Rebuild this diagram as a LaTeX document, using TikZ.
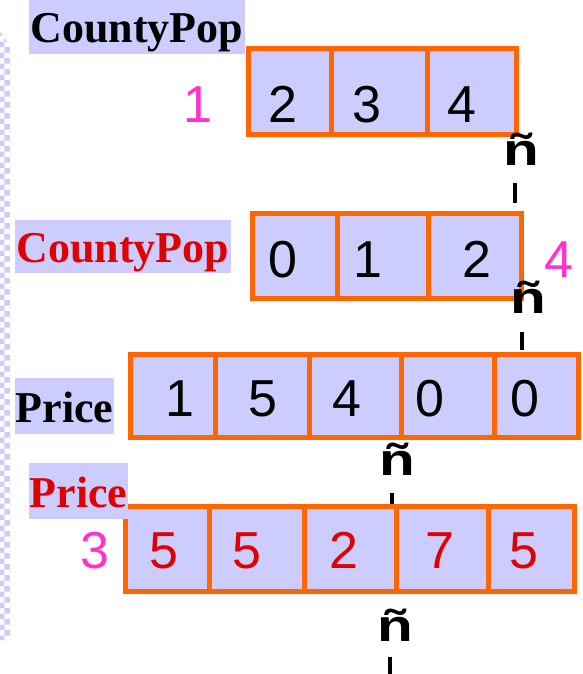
\documentclass[tikz,border=0pt]{standalone}
\usepackage{fontspec}
\setmainfont{Liberation Sans}
\newfontfamily\lblfont{Liberation Serif}
\usetikzlibrary{patterns}
\definecolor{orng}{HTML}{FF6600}
\definecolor{lav}{HTML}{CCCCFF}
\definecolor{redt}{HTML}{E00000}
\definecolor{mag}{HTML}{FF33CC}
\tikzset{
  cell/.style={draw=orng, fill=lav, line width=5pt, inner sep=0pt, rectangle},
  digit/.style={font=\fontsize{52}{52}\selectfont, anchor=base, inner sep=0pt},
  idx/.style={digit, text=mag},
  lbl/.style={fill=lav, inner xsep=2pt, inner ysep=0pt, anchor=base, font=\lblfont\bfseries\fontsize{44}{44}\selectfont},
  ntil/.style={font=\bfseries\fontsize{45}{45}\selectfont, anchor=base, inner sep=0pt, xscale=1.3},
  tick/.style={line width=3.5pt, black}
}
\begin{document}
\begin{tikzpicture}[x=1pt,y=-1pt]
\useasboundingbox (0,0) rectangle (583,674);
% left strip
\fill[pattern=checkerboard, pattern color=lav] (0,32) -- (10,45) -- (10,640) -- (0,640) -- cycle;

% Row 1
\node[cell, minimum width=82.5pt, minimum height=86pt] (r1a) at (289.75,91.5) {};
\node[cell, minimum width=96pt, minimum height=86pt] (r1b) at (379,91.5) {};
\node[cell, minimum width=89.5pt, minimum height=86pt] (r1c) at (471.75,91.5) {};
\node[digit] (d1a) at (283,122) {2};
\node[digit] (d1b) at (367,122) {3};
\node[digit] (d1c) at (462,122) {4};
\node[idx] (i1) at (198,122) {1};
\node[lbl, text height=43pt, text depth=11pt] (L1) at (137,43) {CountyPop};
\node[ntil] (n1) at (521.5,165) {ñ};
\coordinate (t1a) at (515,183); \coordinate (t1b) at (515,203);
\draw[tick] (t1a) -- (t1b);

% Row 2
\node[cell, minimum width=84.5pt, minimum height=85pt] (r2a) at (294.75,256) {};
\node[cell, minimum width=91pt, minimum height=85pt] (r2b) at (382.5,256) {};
\node[cell, minimum width=93.5pt, minimum height=85pt] (r2c) at (474.75,256) {};
\node[digit] (d2a) at (283,277) {0};
\node[digit] (d2b) at (368,277) {1};
\node[digit] (d2c) at (477,277) {2};
\node[idx] (i2) at (559,277) {4};
\node[lbl, text=redt, text height=42pt, text depth=11pt] (L2) at (123,262) {CountyPop};
\node[ntil] (n2) at (528.5,313) {ñ};
\coordinate (t2a) at (522,332); \coordinate (t2b) at (522,350);
\draw[tick] (t2a) -- (t2b);

% Row 3
\node[cell, minimum width=84.5pt, minimum height=83pt] (r3a) at (172.75,396) {};
\node[cell, minimum width=94pt, minimum height=83pt] (r3b) at (262,396) {};
\node[cell, minimum width=92pt, minimum height=83pt] (r3c) at (355,396) {};
\node[cell, minimum width=93pt, minimum height=83pt] (r3d) at (447.5,396) {};
\node[cell, minimum width=84.5pt, minimum height=83pt] (r3e) at (536.25,396) {};
\node[digit] (d3a) at (180,416) {1};
\node[digit] (d3b) at (263,416) {5};
\node[digit] (d3c) at (347,416) {4};
\node[digit] (d3d) at (430,416) {0};
\node[digit] (d3e) at (525,416) {0};
\node[lbl, text height=44pt, text depth=12pt, inner xsep=1pt] (L3) at (64.5,422) {Price};
\node[ntil] (n3) at (397.5,475) {ñ};
\coordinate (t3a) at (392,493); \coordinate (t3b) at (392,513);
\draw[tick] (t3a) -- (t3b);

% Row 4
\node[cell, minimum width=83.5pt, minimum height=85pt] (r4a) at (167.25,549) {};
\node[cell, minimum width=95pt, minimum height=85pt] (r4b) at (256.5,549) {};
\node[cell, minimum width=92pt, minimum height=85pt] (r4c) at (350,549) {};
\node[cell, minimum width=92pt, minimum height=85pt] (r4d) at (442,549) {};
\node[cell, minimum width=86.5pt, minimum height=85pt] (r4e) at (531.25,549) {};
\node[digit, text=redt] (d4a) at (164,568) {5};
\node[digit, text=redt] (d4b) at (247,568) {5};
\node[digit, text=redt] (d4c) at (344,568) {2};
\node[digit, text=redt] (d4d) at (440,568) {7};
\node[digit, text=redt] (d4e) at (524,568) {5};
\node[idx] (i4) at (95,568) {3};
\node[lbl, text=redt, text height=44pt, text depth=12pt, inner xsep=1pt] (L4) at (78.5,507) {Price};
\node[ntil] (n4) at (395,641) {ñ};
\coordinate (t4a) at (390,657); \coordinate (t4b) at (390,674);
\draw[tick] (t4a) -- (t4b);
\end{tikzpicture}
\end{document}
